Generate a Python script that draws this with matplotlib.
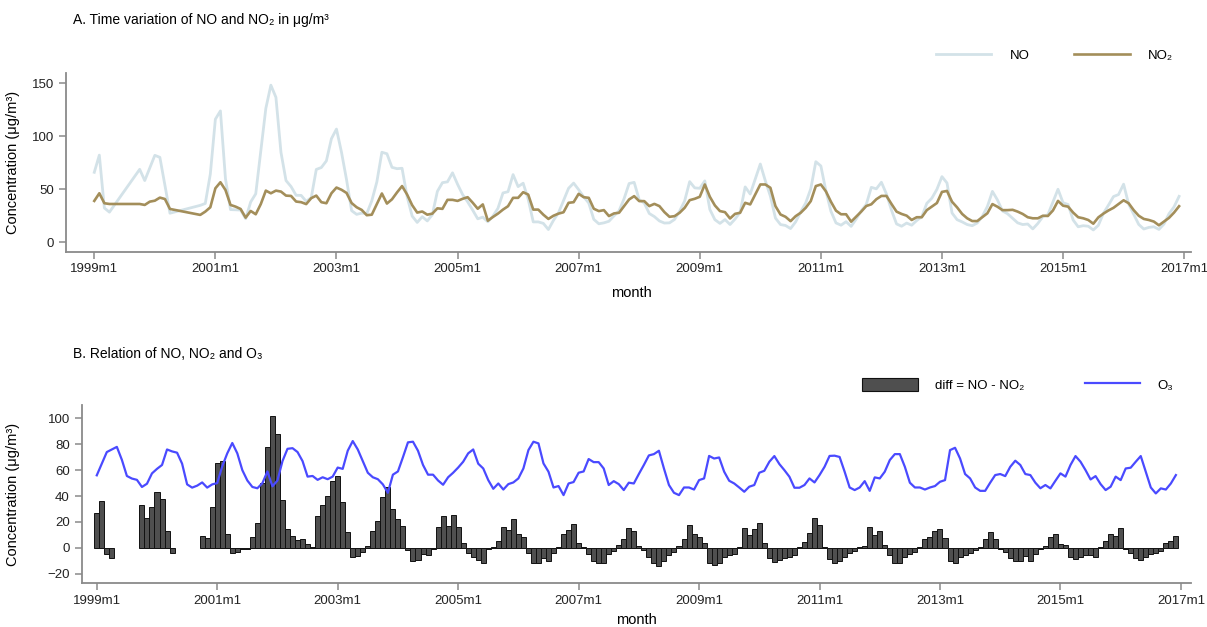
import numpy as np
import matplotlib.pyplot as plt
from matplotlib.lines import Line2D
from matplotlib.patches import Patch

plt.rcParams['font.family'] = ['Liberation Sans', 'DejaVu Sans']

n = np.nan

# monthly values, 1999m1 .. 2016m12 (one row per year)
no = [
    66, 82.2, 32.3, 28.4, n, n, n, n, n, 68.8, 58.2, 70,
    82, 80.1, 53.8, 27.4, n, n, n, n, n, 34.8, 36.6, 64.4,
    116.1, 123.9, 59.9, 30.8, 30.6, 30.4, 22.2, 38, 45.7, 86, 126.3, 148.2,
    136.7, 84.8, 58.2, 52.5, 44.3, 44.2, 38.6, 42.1, 68.7, 70.5, 76.8, 97.7,
    106.8, 84.8, 58.9, 29.8, 26.3, 27.5, 27, 39.1, 56.9, 84.9, 83.5, 70.7,
    69.4, 69.8, 43, 24.7, 18.7, 24.1, 20.1, 26, 48, 56.2, 57, 65.5,
    54.7, 45, 38.1, 30.3, 22.1, 23.7, 19.3, 24.6, 32, 46.5, 47.7, 63.8,
    52.5, 55.7, 40.6, 19.2, 19.2, 17.8, 12, 20.6, 27.8, 39.3, 50.9, 55.8,
    49.6, 42.8, 37, 21.6, 17.4, 18.3, 19.8, 24.9, 29.6, 41.1, 55.4, 56.5,
    40.1, 37, 27.1, 24.2, 20.1, 18.1, 18.3, 21.5, 29.3, 38.9, 57.2, 51.3,
    50.9, 57.9, 30.9, 21.3, 17.8, 21.4, 16.7, 21.9, 28.3, 52.2, 45.5, 59.5,
    73.8, 57.9, 43.4, 22.8, 16.7, 15.8, 12.9, 19.2, 28.6, 37.1, 50.4, 76,
    72, 48.5, 29.2, 18.2, 16.1, 19.4, 15, 21.9, 29.7, 35.7, 51.8, 50.4,
    56.6, 45.5, 30.2, 17.3, 15.1, 18.1, 16.1, 20.5, 24.1, 36.7, 41.6, 49.9,
    61.9, 55.9, 27.6, 21.3, 19.2, 16.7, 15.6, 18.2, 24.4, 33.7, 48, 39.9,
    29.5, 26.9, 22.6, 18.3, 16.7, 17.2, 12.6, 17.7, 24.2, 26.1, 38, 50,
    37.3, 35.6, 21, 14.6, 15.6, 15.1, 11.6, 16, 27.3, 35, 43.1, 45,
    54.8, 36, 26.4, 16.8, 12.5, 14, 14.6, 12.1, 17.2, 26.9, 33.4, 43.3,
]

no2 = [
    39, 46.2, 36.8, 36.1, n, n, n, n, n, 36.1, 35.2, 38.3,
    39.2, 42.1, 40.8, 31.4, n, n, n, n, n, 25.8, 28.9, 33,
    50.9, 56.6, 49.3, 35.2, 33.6, 31.4, 23.2, 29.5, 26.4, 36, 48.7, 46.2,
    48.7, 47.8, 44, 43.7, 38.4, 37.8, 36, 41.6, 44, 37.8, 36.8, 46.2,
    51.6, 49.5, 46.5, 37, 33, 30.5, 25.5, 26, 36, 46, 36.5, 40.5,
    47, 53, 45, 35, 28, 29, 26, 27, 32, 31.5, 40, 40,
    39, 41, 42.5, 37.3, 31.6, 35.7, 20.3, 23.8, 27, 30.8, 34, 41.9,
    41.9, 47.2, 45, 30.8, 30.8, 26, 22, 25, 27, 28.3, 37.2, 37.8,
    45.7, 42.5, 41.9, 31.6, 29.4, 30.3, 24.7, 27.2, 27.8, 34.1, 40.4, 43.5,
    38.8, 38.8, 34.1, 36.2, 34.1, 28.4, 24, 24.6, 27.8, 32.5, 39.7, 41,
    42.9, 54.5, 42.9, 34.7, 29.4, 28.4, 22.4, 26.8, 27.8, 37.2, 35.7, 45.1,
    54.5, 54.5, 51.4, 34.1, 26.2, 24, 19.9, 24.6, 27.8, 32.5, 38.8, 53,
    54.5, 48, 38.2, 29.8, 26.4, 26.4, 19.4, 24.2, 28.9, 34.2, 35.8, 40.6,
    43.7, 43.7, 36.1, 28.9, 26.7, 25.1, 21, 23.6, 23.6, 30.3, 33.6, 37,
    47.5, 48.4, 38.2, 32.9, 26.7, 22.6, 20, 20, 23.6, 27.3, 36, 33.5,
    30.3, 30.3, 30.6, 28.9, 26.7, 23.6, 22.6, 22.6, 25, 24.8, 30, 39,
    34.5, 33.6, 28, 23.6, 22.6, 21, 17.5, 23.5, 27, 30, 32.5, 36,
    39.6, 36.8, 30.3, 25, 22, 21, 19.5, 16, 19.5, 23, 28, 34,
]

o3 = [
    56, 65, 74, 76, 78, 68, 55.5, 53.5, 52.5, 47, 49.5, 57.5,
    61, 64, 76, 74.5, 73.5, 65, 49, 46.5, 48, 50.5, 46.5, 49,
    50, 63, 73, 81, 73, 60, 52, 47, 46, 50, 59, 47.5,
    52, 67, 76.5, 77, 74, 67, 55, 55.5, 52.5, 54.5, 53, 55,
    62, 61, 75, 82.5, 76, 67, 58, 54.5, 53, 49, 42.5, 56.5,
    59, 70, 81.5, 82, 75, 64, 56.5, 56.5, 52, 48.7, 54.5, 58,
    62, 66.5, 73, 76, 65, 61.3, 52.3, 45.6, 49.7, 45, 49.2, 50.5,
    53.6, 61.3, 75.5, 82, 80.7, 65.2, 58.8, 46.6, 47.7, 40.7, 49.7, 50.8,
    58, 59, 68.6, 66.2, 66.2, 61.3, 48.5, 51.5, 49.2, 44.6, 50.3, 49.7,
    57, 64, 71.4, 72.4, 75, 61.3, 48.5, 42.5, 40.7, 46.6, 46.6, 45,
    52.3, 53.6, 71, 69, 69.8, 58.8, 51.8, 49.7, 46.6, 43.3, 47.2, 48.5,
    58, 59.5, 66.5, 70.9, 64.7, 60, 54.9, 46.4, 46.4, 48.5, 53.6, 50.5,
    56.2, 62.6, 71, 71.2, 70.2, 58.8, 46.6, 44.6, 46.6, 51.5, 44, 54.4,
    53.6, 58.8, 67.8, 72.4, 72.4, 62.6, 50.3, 46.6, 46.6, 45, 46.6, 47.7,
    51, 52.3, 75.5, 77.3, 69, 57, 53.6, 46.6, 44, 44, 50.3, 56.2,
    57, 55.4, 62.6, 67.3, 64, 57, 56.2, 50.3, 46, 48.5, 45.9, 51.8,
    57.5, 55, 64, 70.9, 66.5, 60, 52.8, 55.4, 49.2, 44.6, 47.2, 55,
    52.3, 61.3, 61.9, 66.5, 70.9, 58.8, 46.6, 42, 45.9, 45, 49.7, 56.2,
]

tick_labels = ['1999m1', '2001m1', '2003m1', '2005m1', '2007m1',
               '2009m1', '2011m1', '2013m1', '2015m1', '2017m1']

no = np.array(no, dtype=float)
no2 = np.array(no2, dtype=float)
o3 = np.array(o3, dtype=float)
diff = no - no2
t = np.arange(len(no))
tick_pos = np.arange(0, 24 * len(tick_labels), 24)

c_no = '#d3e2e8'
c_no2 = '#a38e5a'
c_o3 = '#4a4aff'
c_axis = '#8a8a8a'
fs_tick = 9.5
fs_lab = 10.5

fig = plt.figure(figsize=(12.07, 6.27), dpi=100)
ax1 = fig.add_axes([0.0547, 0.5986, 0.9318, 0.2850])
ax2 = fig.add_axes([0.0677, 0.0697, 0.9190, 0.2844])


def style(ax):
    for s in ('top', 'right'):
        ax.spines[s].set_visible(False)
    for s in ('left', 'bottom'):
        ax.spines[s].set_color(c_axis)
        ax.spines[s].set_linewidth(1.3)
    ax.tick_params(colors=c_axis, labelcolor='#222222', length=5, width=1.1,
                   labelsize=fs_tick)
    ax.set_xticks(tick_pos)
    ax.set_xticklabels(tick_labels)
    ax.set_xlabel('month', fontsize=fs_lab)
    ax.set_ylabel('Concentration (μg/m³)', fontsize=fs_lab)


# Panel A: lines connect across missing months
m1 = ~np.isnan(no)
m2 = ~np.isnan(no2)
ax1.plot(t[m1], no[m1], color=c_no, lw=2.0)
ax1.plot(t[m2], no2[m2], color=c_no2, lw=1.9)
ax1.set_xlim(-5.6, 217.3)
ax1.set_ylim(-8.9, 159.7)
ax1.set_yticks([0, 50, 100, 150])
style(ax1)
ax1.xaxis.set_label_coords(0.503, -0.19)
ax1.yaxis.set_label_coords(-0.041, 0.5)

# Panel B
ax2.bar(t, diff, width=1.0, color='#4f4f4f', edgecolor='#111111', linewidth=0.7)
ax2.plot(t, o3, color=c_o3, lw=1.6)
ax2.set_xlim(-3.0, 218.0)
ax2.set_ylim(-27.5, 110.4)
ax2.set_yticks([-20, 0, 20, 40, 60, 80, 100])
style(ax2)
ax2.xaxis.set_label_coords(0.5, -0.165)
ax2.yaxis.set_label_coords(-0.0556, 0.5)

fig.text(0.0605, 0.968, 'A. Time variation of NO and NO₂ in μg/m³',
         fontsize=10, va='center', ha='left')
fig.text(0.0605, 0.4354, 'B. Relation of NO, NO₂ and O₃',
         fontsize=10, va='center', ha='left')

h_a = [Line2D([], [], color=c_no, lw=2.0), Line2D([], [], color=c_no2, lw=1.9)]
ax1.legend(h_a, ['NO', 'NO₂'], ncol=2, frameon=False, fontsize=fs_tick,
           loc='center right', bbox_to_anchor=(0.972, 0.911),
           bbox_transform=fig.transFigure, handlelength=4.2,
           handletextpad=1.4, columnspacing=3.4, borderpad=0, borderaxespad=0)

h_b = [Patch(facecolor='#4f4f4f', edgecolor='#111111', linewidth=0.8),
       Line2D([], [], color=c_o3, lw=1.6)]
ax2.legend(h_b, ['diff = NO - NO₂', 'O₃'], ncol=2, frameon=False,
           fontsize=fs_tick, loc='center right', bbox_to_anchor=(0.972, 0.386),
           bbox_transform=fig.transFigure, handlelength=4.2, handleheight=1.2,
           handletextpad=1.3, columnspacing=4.6, borderpad=0, borderaxespad=0)

fig.savefig('out.png', dpi=100, facecolor='white')
plt.close(fig)
